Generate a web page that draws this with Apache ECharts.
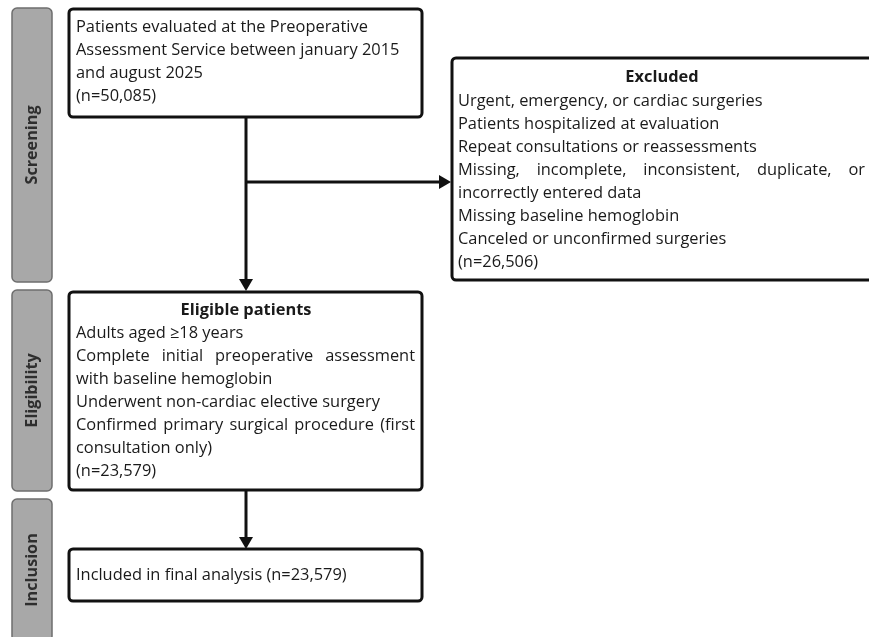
<!DOCTYPE html>
<html><head><meta charset="utf-8">
<script src="https://cdn.jsdelivr.net/npm/echarts@6/dist/echarts.min.js"></script>
<style>html,body{margin:0;padding:0;background:#fff}#c{width:869px;height:637px}</style>
</head><body><div id="c"></div>
<script>
// ---- data ----
const stageLabels = ['Screening', 'Eligibility', 'Inclusion'];
const screenedLines = ['Patients evaluated at the Preoperative', 'Assessment Service between january 2015', 'and august 2025'];
const screenedN = 50085;
const excludedTitle = 'Excluded';
const excludedLines = ['Urgent, emergency, or cardiac surgeries', 'Patients hospitalized at evaluation', 'Repeat consultations or reassessments', 'Missing, incomplete, inconsistent, duplicate, or', 'incorrectly entered data', 'Missing baseline hemoglobin', 'Canceled or unconfirmed surgeries'];
const excludedN = 26506;
const eligibleTitle = 'Eligible patients';
const eligibleLines = ['Adults aged \u226518 years', 'Complete initial preoperative assessment', 'with baseline hemoglobin', 'Underwent non-cardiac elective surgery', 'Confirmed primary surgical procedure (first', 'consultation only)'];
const eligibleN = 23579;
const includedText = 'Included in final analysis';
const includedN = 23579;

// ---- layout ----
const FONT_FAMILY = '"Open Sans", "Noto Sans", sans-serif';
const FS = 16.4;
const LH = 23;
const fontN = FS + 'px ' + FONT_FAMILY;
const fontB = 'bold ' + FS + 'px ' + FONT_FAMILY;
const ctx = document.createElement('canvas').getContext('2d');
function tw(t, f) { ctx.font = f; return ctx.measureText(t).width; }
const fmt = n => '(n=' + n.toLocaleString('en-US') + ')';

const els = [];
function box(x, y, w, h) {
  els.push({type: 'rect', shape: {x, y, width: w, height: h, r: 4},
    style: {fill: '#fff', stroke: '#111', lineWidth: 3}});
}
function text(t, x, y, f, align) {
  els.push({type: 'text', x: x, y: y, style: {text: t, font: f, fill: '#1a1a1a',
    align: align || 'left', verticalAlign: 'middle', textAlign: align || 'left', textVerticalAlign: 'middle'}});
}
function justified(t, x, y, w) {
  const words = t.split(' ');
  const ws = words.map(s => tw(s, fontN));
  const gap = (w - ws.reduce((a, b) => a + b, 0)) / (words.length - 1);
  let cx = x;
  words.forEach((s, i) => { text(s, cx, y, fontN); cx += ws[i] + gap; });
}
function lines(arr, x, y0, w, justify) {
  arr.forEach((t, i) => {
    if (justify.indexOf(i) >= 0) justified(t, x, y0 + i * LH, w);
    else text(t, x, y0 + i * LH, fontN);
  });
}
function stage(label, y, h) {
  els.push({type: 'rect', shape: {x: 12, y, width: 40, height: h, r: 5},
    style: {fill: '#a8a8a8', stroke: '#6e6e6e', lineWidth: 1.5}});
  els.push({type: 'text', x: 32, y: y + h / 2, rotation: Math.PI / 2,
    style: {text: label, font: 'bold 16.2px ' + FONT_FAMILY, fill: '#2e2e2e',
      align: 'center', verticalAlign: 'middle', textAlign: 'center', textVerticalAlign: 'middle'}});
}
function seg(x1, y1, x2, y2) {
  els.push({type: 'line', shape: {x1, y1, x2, y2}, style: {stroke: '#111', lineWidth: 3}});
}
function headDown(x, y) {
  els.push({type: 'polygon', shape: {points: [[x - 7, y - 12], [x + 7, y - 12], [x, y]]}, style: {fill: '#111'}});
}
function headRight(x, y) {
  els.push({type: 'polygon', shape: {points: [[x - 12, y - 7], [x - 12, y + 7], [x, y]]}, style: {fill: '#111'}});
}

// stages
stage(stageLabels[0], 8, 274);
stage(stageLabels[1], 290, 201);
stage(stageLabels[2], 499, 142);

// arrows
seg(246, 117, 246, 281);
headDown(246, 291);
seg(246, 182, 441, 182);
headRight(451, 182);
seg(246, 490, 246, 539);
headDown(246, 549);

// screened box
box(69, 9, 353, 108);
lines(screenedLines.concat([fmt(screenedN)]), 76, 27, 339, []);

// excluded box
box(452, 58, 422, 222);
text(excludedTitle, 662, 77, fontB, 'center');
lines(excludedLines.concat([fmt(excludedN)]), 458, 101, 407, [3]);

// eligible box
box(69, 292, 353, 198);
text(eligibleTitle, 246, 310, fontB, 'center');
lines(eligibleLines.concat([fmt(eligibleN)]), 76, 333, 339, [1, 4]);

// included box
box(69, 549, 353, 52);
text(includedText + ' ' + fmt(includedN), 76, 575, fontN);

const chart = echarts.init(document.getElementById('c'), null, {renderer: 'canvas'});
chart.setOption({backgroundColor: '#fff', animation: false, graphic: {elements: els}});
</script></body></html>
